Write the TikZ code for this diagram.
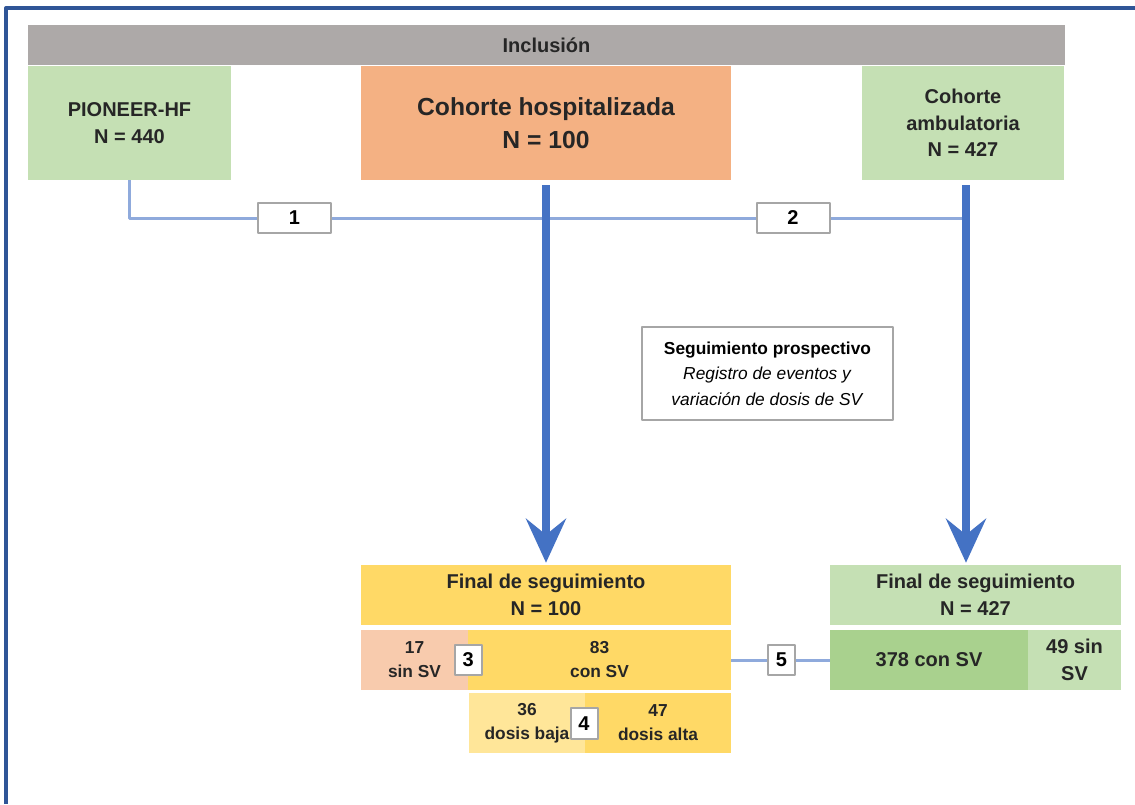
\documentclass[tikz,border=0pt]{standalone}
\usepackage{fontspec}
\setmainfont{Liberation Sans}
\usepackage{tikz}
\usetikzlibrary{arrows.meta}
\definecolor{incl}{HTML}{ADA9A8}
\definecolor{verde}{HTML}{C5E0B4}
\definecolor{verdeosc}{HTML}{A9D18E}
\definecolor{naranja}{HTML}{F4B183}
\definecolor{amarillo}{HTML}{FFD966}
\definecolor{amarilloclaro}{HTML}{FFE699}
\definecolor{salmon}{HTML}{F8CBAD}
\definecolor{azul}{HTML}{4472C4}
\definecolor{azulclaro}{HTML}{8FAADC}
\definecolor{marco}{HTML}{2F5597}
\definecolor{gris}{HTML}{A6A6A6}
\definecolor{texto}{HTML}{262626}
\tikzset{
  every picture/.style={line join=round, >=Stealth},
  box/.style={inner sep=0pt, align=center, text=texto, font=\bfseries\fontsize{15}{20}\selectfont},
  sub/.style={box, font=\bfseries\fontsize{13}{18}\selectfont},
  numbox/.style={draw=gris, line width=1.5pt, fill=white, minimum width=20.25pt, minimum height=22.5pt, inner sep=0pt, text=black, font=\bfseries\fontsize{15}{18}\selectfont},
  link/.style={draw=azulclaro, line width=2.25pt},
  flow/.style={draw=azul, line width=6pt, -{Stealth[length=33pt,width=30pt,inset=12pt]}},
  frame/.style={draw=marco, line width=2.5pt},
}

\begin{document}
\begin{tikzpicture}[x=0.75pt,y=-0.75pt]
\useasboundingbox (0,0) rectangle (1135,804);
\draw[frame] (6,804)--(6,8)--(1135,8);
\node[box, fill=incl, minimum width=777.75pt, minimum height=30pt] (incl) at (546.5,45) {Inclusión};
\node[box, fill=verde, minimum width=152.25pt, minimum height=85.5pt] (pion) at (129.5,123) {PIONEER-HF\\N = 440};
\node[box, fill=naranja, minimum width=277.5pt, minimum height=85.5pt, font=\bfseries\fontsize{18.5}{25}\selectfont] (hosp) at (546,123) {Cohorte hospitalizada\\N = 100};
\node[box, fill=verde, minimum width=151.5pt, minimum height=85.5pt] (amb) at (963,123) {Cohorte\\ambulatoria\\N = 427};
\node[numbox, minimum width=54.75pt] (one) at (294.5,218) {1};
\node[numbox, minimum width=54.75pt] (two) at (793,218) {2};
\coordinate (ambtop) at (966,185);
\node[draw=gris, line width=1.5pt, minimum width=188.25pt, minimum height=69.75pt, align=center, font=\fontsize{13}{19}\selectfont] (seg) at (767.5,373.5) {\textbf{Seguimiento prospectivo}\\\textit{Registro de eventos y}\\\textit{variación de dosis de SV}};
\node[box, fill=amarillo, minimum width=277.5pt, minimum height=45pt] (fin1) at (546,595) {Final de seguimiento\\N = 100};
\node[sub, fill=salmon, minimum width=80.25pt, minimum height=45pt] (sinsv) at (414.5,660) {17\\sin SV};
\node[sub, fill=amarillo, minimum width=197.25pt, minimum height=45pt] (consv) at (599.5,660) {83\\con SV};
\node[sub, fill=amarilloclaro, minimum width=87pt, minimum height=45pt] (baja) at (527,723) {36\\dosis baja};
\node[sub, fill=amarillo, minimum width=109.5pt, minimum height=45pt] (alta) at (658,723) {47\\dosis alta};
\node[numbox] (three) at (sinsv.east) {3};
\node[numbox, minimum height=23.25pt] (four) at (584,723.5) {4};
\node[box, fill=verde, minimum width=218.25pt, minimum height=45pt] (fin2) at (975.5,595) {Final de seguimiento\\N = 427};
\node[box, fill=verdeosc, minimum width=148.5pt, minimum height=45pt] (amcon) at (929,660) {378 con SV};
\node[box, fill=verde, minimum width=69.75pt, minimum height=45pt] (amsin) at (1074.5,660) {49 sin\\SV};
\node[numbox] (five) at (781.5,660) {5};
\draw[link] (pion.south)|-(one.west);
\draw[link] (one.east)--(two.west);
\draw[link] (two.east)--(ambtop|-two.east);
\draw[link] (consv.east)--(five.west);
\draw[link] (five.east)--(amcon.west);
\draw[flow] ([yshift=-3.75pt]hosp.south)--([yshift=1.5pt]fin1.north);
\draw[flow] (ambtop)--([yshift=1.5pt]ambtop|-fin2.north);
\end{tikzpicture}
\end{document}
